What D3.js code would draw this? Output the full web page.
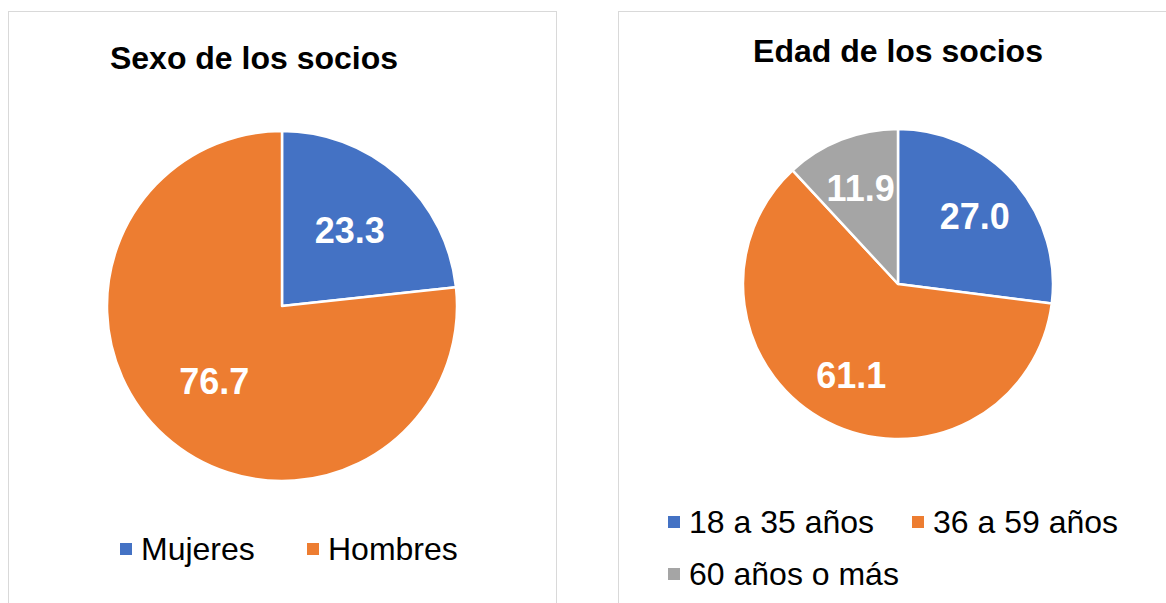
<!DOCTYPE html>
<html lang="es">
<head>
<meta charset="UTF-8">
<title>Socios</title>
<script src="https://d3js.org/d3.v7.min.js"></script>
<style>
  body { margin: 0; background: #fff; font-family: "Liberation Sans", Arial, sans-serif; }
  svg { display: block; }
</style>
</head>
<body>
<svg width="1166" height="603"></svg>
<script>
// data
const sexoLabels = ["Mujeres", "Hombres"];
const sexoValues = [23.3, 76.7];
const edadLabels = ["18 a 35 años", "36 a 59 años", "60 años o más"];
const edadValues = [27.0, 61.1, 11.9];
const colors = ["#4472C4", "#ED7D31", "#A5A5A5"];

const svg = d3.select("svg");

// panel frames
svg.append("rect").attr("x", 8.5).attr("y", 11.5).attr("width", 548).attr("height", 620)
  .attr("fill", "#fff").attr("stroke", "#d9d9d9");
svg.append("rect").attr("x", 618.5).attr("y", 11.5).attr("width", 600).attr("height", 620)
  .attr("fill", "#fff").attr("stroke", "#d9d9d9");

function drawPie(opt) {
  const g = svg.append("g");
  g.append("text")
    .attr("x", opt.titleX).attr("y", opt.titleY)
    .attr("text-anchor", "middle")
    .style("font-size", "32px").style("font-weight", "bold")
    .text(opt.title);

  const pie = d3.pie().sort(null).value(d => d.v);
  const items = opt.labels.map((l, i) => ({ label: l, v: opt.values[i], color: colors[i] }));
  const arcs = pie(items);
  const arc = d3.arc().innerRadius(0).outerRadius(opt.r);
  const labelArc = d3.arc().innerRadius(opt.r * opt.lf).outerRadius(opt.r * opt.lf);

  const pg = g.append("g").attr("transform", `translate(${opt.cx},${opt.cy})`);
  pg.selectAll("path").data(arcs).enter().append("path")
    .attr("d", arc)
    .attr("fill", d => d.data.color)
    .attr("stroke", "#fff").attr("stroke-width", 2.5)
    .attr("stroke-linejoin", "round");

  pg.selectAll("text").data(arcs).enter().append("text")
    .attr("transform", d => `translate(${labelArc.centroid(d)})`)
    .attr("text-anchor", "middle").attr("dy", "0.35em")
    .attr("fill", "#fff")
    .style("font-size", "36px").style("font-weight", "bold")
    .text(d => d.data.v.toFixed(1));

  // legend
  const lg = g.append("g");
  items.forEach((d, i) => {
    const col = i % opt.perRow, row = Math.floor(i / opt.perRow);
    const x = opt.legX + col * opt.legCol, y = opt.legY + row * opt.legRow;
    lg.append("rect").attr("x", x).attr("y", y - 6).attr("width", 12).attr("height", 12)
      .attr("fill", d.color);
    lg.append("text").attr("x", x + 21).attr("y", y)
      .attr("dy", "0.35em")
      .style("font-size", "32px")
      .text(d.label);
  });
}

drawPie({
  title: "Sexo de los socios", titleX: 254, titleY: 69,
  labels: sexoLabels, values: sexoValues,
  cx: 282, cy: 306, r: 175, lf: 0.58,
  legX: 120, legY: 549, legCol: 187, legRow: 52, perRow: 2
});

drawPie({
  title: "Edad de los socios", titleX: 898, titleY: 62,
  labels: edadLabels, values: edadValues,
  cx: 898, cy: 284, r: 155, lf: 0.66,
  legX: 668, legY: 522, legCol: 244, legRow: 52, perRow: 2
});
</script>
</body>
</html>
